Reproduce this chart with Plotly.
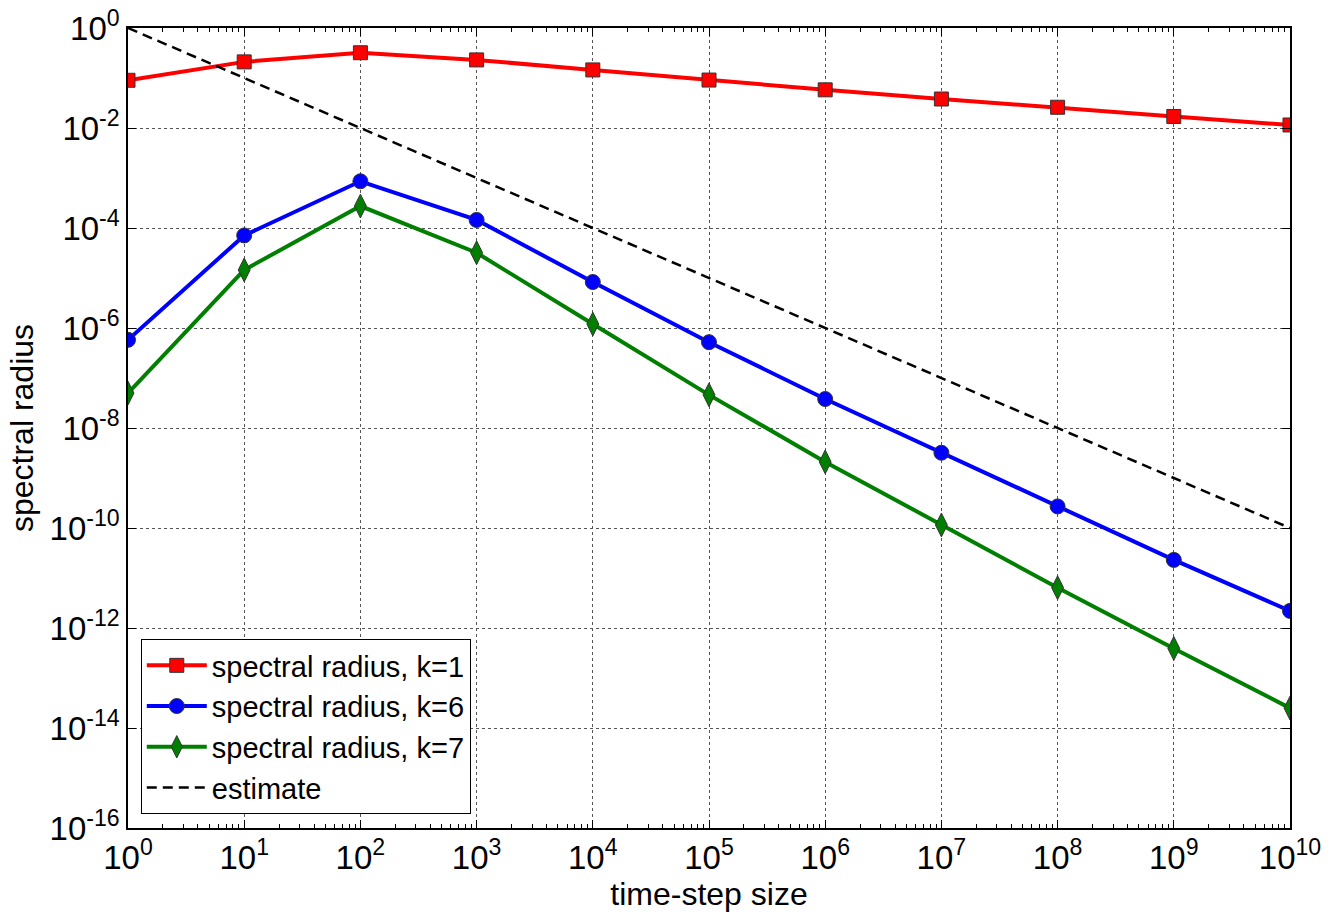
import plotly.graph_objects as go

x_vals = [1e0, 1e1, 1e2, 1e3, 1e4, 1e5, 1e6, 1e7, 1e8, 1e9, 1e10]
k1_vals = [0.090, 0.21, 0.32, 0.23, 0.145, 0.091, 0.058, 0.038, 0.026, 0.017, 0.0115]
k6_vals = [5.8e-7, 7.1e-5, 8.6e-4, 1.45e-4, 8.3e-6, 5.2e-7, 3.8e-8, 3.2e-9, 2.7e-10, 2.3e-11, 2.2e-12]
k7_vals = [5.0e-8, 1.45e-5, 2.75e-4, 3.2e-5, 1.2e-6, 4.6e-8, 2.1e-9, 1.15e-10, 6.4e-12, 3.9e-13, 2.5e-14]
estimate_vals = [1e0, 1e-1, 1e-2, 1e-3, 1e-4, 1e-5, 1e-6, 1e-7, 1e-8, 1e-9, 1e-10]

x_tick_exps = list(range(0, 11))
y_tick_exps = list(range(-16, 1, 2))

FONT = "Liberation Sans, Arial, sans-serif"

fig = go.Figure()
fig.add_trace(go.Scatter(
    x=x_vals, y=k1_vals, mode="lines+markers", name="spectral radius, k=1",
    line=dict(color="#ff0000", width=4),
    marker=dict(symbol="square", size=14, color="#ff0000", line=dict(color="#333333", width=1)),
))
fig.add_trace(go.Scatter(
    x=x_vals, y=k6_vals, mode="lines+markers", name="spectral radius, k=6",
    line=dict(color="#0000ff", width=4),
    marker=dict(symbol="circle", size=15, color="#0000ff", line=dict(color="#333333", width=1)),
))
fig.add_trace(go.Scatter(
    x=x_vals, y=k7_vals, mode="lines+markers", name="spectral radius, k=7",
    line=dict(color="#007f00", width=4),
    marker=dict(symbol="diamond-tall", size=17, color="#007f00", line=dict(color="#333333", width=1)),
))
fig.add_trace(go.Scatter(
    x=x_vals, y=estimate_vals, mode="lines", name="estimate",
    line=dict(color="black", width=2.5, dash="10px,6px"),
))

fig.update_layout(
    width=1332, height=917,
    margin=dict(l=128, r=42, t=28, b=89),
    paper_bgcolor="white", plot_bgcolor="white",
    font=dict(family=FONT, color="black"),
    showlegend=True,
    legend=dict(
        x=0.011, y=0.0175, xanchor="left", yanchor="bottom",
        bordercolor="black", borderwidth=1, bgcolor="white",
        font=dict(size=29, family=FONT), tracegroupgap=0,
        itemwidth=60,
    ),
)
fig.update_xaxes(
    type="log", range=[0, 10], automargin=False,
    tickvals=[10 ** e for e in x_tick_exps],
    ticktext=[f"10<sup>{e}</sup>" for e in x_tick_exps],
    tickfont=dict(size=33, family=FONT),
    ticks="inside", ticklen=8, tickwidth=1, tickcolor="black",
    showline=True, linecolor="black", linewidth=1.5, mirror="allticks",
    showgrid=True, gridcolor="#555555", griddash="dot", gridwidth=1,
    minor=dict(ticks="inside", ticklen=4, tickcolor="black", dtick="D1", showgrid=False),
    title=dict(text="time-step size", font=dict(size=32, family=FONT), standoff=0),
    zeroline=False,
)
fig.update_yaxes(
    type="log", range=[-16, 0], automargin=False,
    tickvals=[10.0 ** e for e in y_tick_exps],
    ticktext=[f"10<sup>{e}</sup>" for e in y_tick_exps],
    tickfont=dict(size=33, family=FONT),
    ticks="inside", ticklen=8, tickwidth=1, tickcolor="black",
    showline=True, linecolor="black", linewidth=1.5, mirror="allticks",
    showgrid=True, gridcolor="#555555", griddash="dot", gridwidth=1,
    title=dict(text="spectral radius", font=dict(size=32, family=FONT), standoff=6),
    zeroline=False,
)

fig.write_html("out.html")
